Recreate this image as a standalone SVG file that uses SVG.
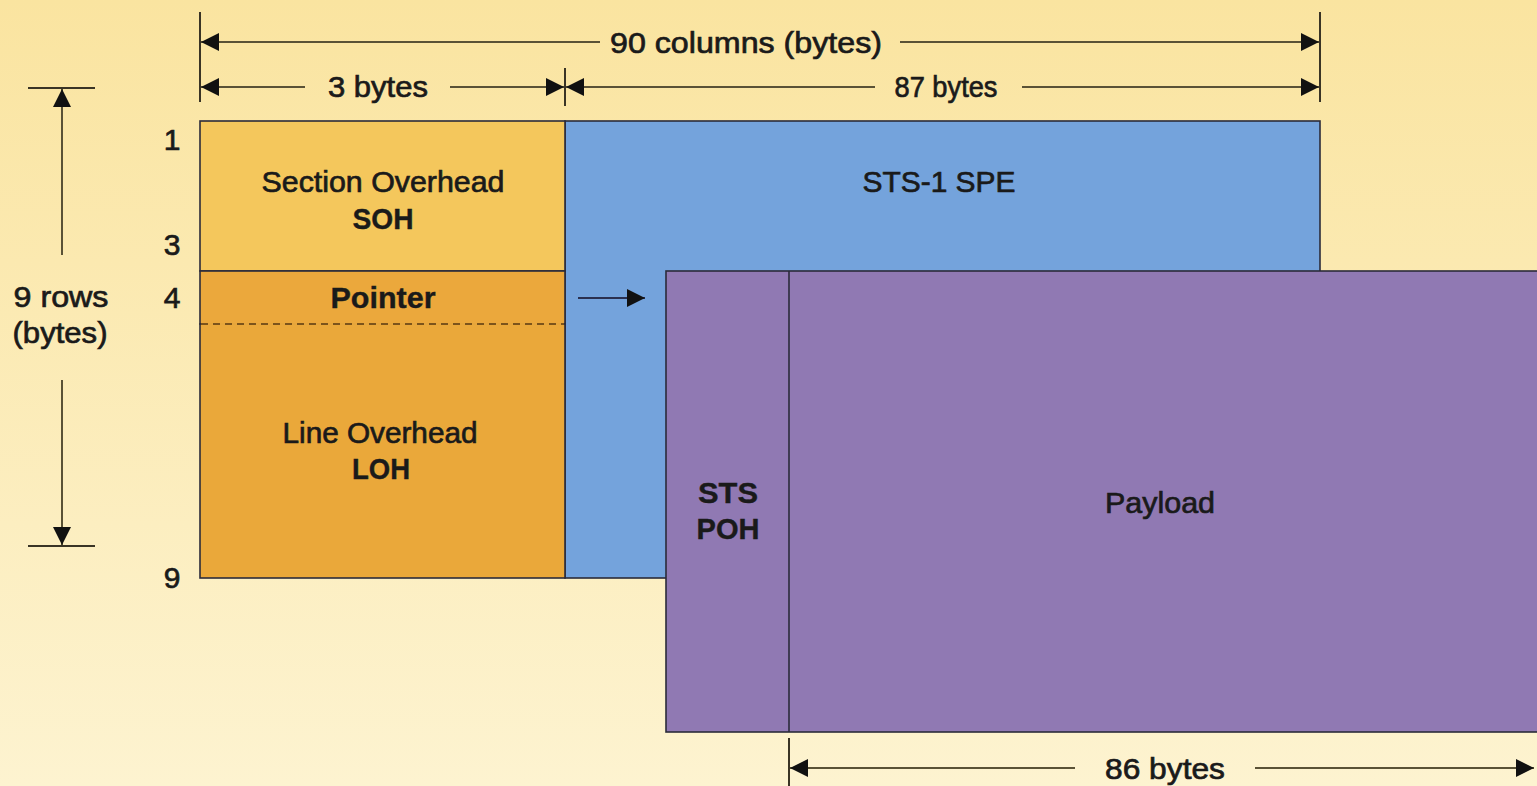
<svg xmlns="http://www.w3.org/2000/svg" width="1537" height="786" viewBox="0 0 1537 786">
<defs>
<linearGradient id="bg" x1="0" y1="0" x2="0" y2="1">
<stop offset="0" stop-color="#fae4a0"/>
<stop offset="1" stop-color="#fdf3d0"/>
</linearGradient>
<marker id="ah" viewBox="0 0 10 10" refX="10" refY="5" markerWidth="18" markerHeight="18" markerUnits="userSpaceOnUse" orient="auto-start-reverse">
<path d="M0,0 L10,5 L0,10 Z" fill="#111"/>
</marker>
<style>
.t{font-family:"Liberation Sans",Arial,sans-serif;font-size:30px;fill:#1a1a1a;text-anchor:middle;stroke:#1a1a1a;stroke-width:0.7}
.b{font-weight:bold;stroke-width:0.4}
.dim{stroke:#5a5236;stroke-width:2;fill:none}
.tick{stroke:#3a3425;stroke-width:2}
.edge{stroke:#2b2b3a;stroke-width:1.6}
</style>
</defs>
<rect width="1537" height="786" fill="url(#bg)"/>

<g id="spe">
<rect x="565" y="121" width="755" height="457" fill="#74a3dc" class="edge"/>
<text class="t" x="939" y="192" textLength="153" lengthAdjust="spacingAndGlyphs">STS-1 SPE</text>
</g>

<g id="soh">
<rect x="200" y="121" width="365" height="150" fill="#f4c75c" class="edge"/>
<text class="t" x="383" y="192" textLength="243" lengthAdjust="spacingAndGlyphs">Section Overhead</text>
<text class="t b" x="383" y="229" textLength="61" lengthAdjust="spacingAndGlyphs">SOH</text>
</g>

<g id="pointer">
<rect x="200" y="271" width="365" height="53" fill="#eba83c" class="edge"/>
<text class="t b" x="383" y="308" textLength="105" lengthAdjust="spacingAndGlyphs">Pointer</text>
</g>

<g id="loh">
<rect x="200" y="324" width="365" height="254" fill="#eaa83a" class="edge"/>
<line x1="201" y1="324" x2="564" y2="324" stroke="#e6a63c" stroke-width="2"/>
<line x1="201" y1="324" x2="564" y2="324" stroke="#5a3a10" stroke-width="1.5" stroke-dasharray="7,5"/>
<text class="t" x="380" y="443" textLength="195" lengthAdjust="spacingAndGlyphs">Line Overhead</text>
<text class="t b" x="381" y="479" textLength="58" lengthAdjust="spacingAndGlyphs">LOH</text>
</g>

<g id="payload-frame">
<rect x="666" y="271" width="880" height="461" fill="#9079b3" class="edge"/>
<line x1="789" y1="271" x2="789" y2="732" class="edge"/>
<text class="t b" x="728" y="503" textLength="60" lengthAdjust="spacingAndGlyphs">STS</text>
<text class="t b" x="728" y="539" textLength="63" lengthAdjust="spacingAndGlyphs">POH</text>
<text class="t" x="1160" y="513" textLength="110" lengthAdjust="spacingAndGlyphs">Payload</text>
</g>

<g id="row-labels">
<text class="t" x="172" y="150">1</text>
<text class="t" x="172" y="255">3</text>
<text class="t" x="172" y="308">4</text>
<text class="t" x="172" y="588">9</text>
<text class="t" x="61" y="307" textLength="95" lengthAdjust="spacingAndGlyphs">9 rows</text>
<text class="t" x="60" y="343" textLength="95" lengthAdjust="spacingAndGlyphs">(bytes)</text>
</g>

<g id="dimension-labels">
<text class="t" x="746" y="53" textLength="272" lengthAdjust="spacingAndGlyphs">90 columns (bytes)</text>
<text class="t" x="378" y="97" textLength="100" lengthAdjust="spacingAndGlyphs">3 bytes</text>
<text class="t" x="946" y="97" textLength="103" lengthAdjust="spacingAndGlyphs">87 bytes</text>
<text class="t" x="1165" y="779" textLength="120" lengthAdjust="spacingAndGlyphs">86 bytes</text>
</g>

<g id="connectors">
<line class="tick" x1="200" y1="12" x2="200" y2="102"/>
<line class="tick" x1="1320" y1="12" x2="1320" y2="102"/>
<line class="tick" x1="565" y1="68" x2="565" y2="106"/>
<line class="tick" x1="789" y1="738" x2="789" y2="786"/>
<line class="tick" x1="28" y1="88" x2="95" y2="88"/>
<line class="tick" x1="28" y1="546" x2="95" y2="546"/>
<path class="dim" d="M600,42 H201" marker-end="url(#ah)"/>
<path class="dim" d="M900,42 H1319" marker-end="url(#ah)"/>
<path class="dim" d="M305,87 H201" marker-end="url(#ah)"/>
<path class="dim" d="M450,87 H564" marker-end="url(#ah)"/>
<path class="dim" d="M875,87 H566" marker-end="url(#ah)"/>
<path class="dim" d="M1022,87 H1319" marker-end="url(#ah)"/>
<path class="dim" d="M1075,768 H790" marker-end="url(#ah)"/>
<path class="dim" d="M1255,768 H1534" marker-end="url(#ah)"/>
<path class="dim" d="M62,255 V89" marker-end="url(#ah)"/>
<path class="dim" d="M62,380 V545" marker-end="url(#ah)"/>
<path d="M578,298 H645" stroke="#2a3050" stroke-width="2" fill="none" marker-end="url(#ah)"/>
</g>
</svg>
